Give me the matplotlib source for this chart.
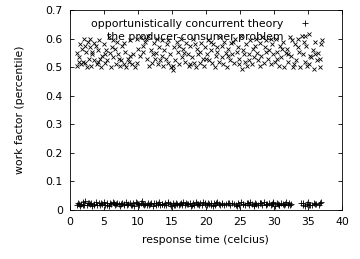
import numpy as np
import matplotlib
matplotlib.use('Agg')
import matplotlib.pyplot as plt

# series 1: opportunistically concurrent theory (+), lower band
x_oct = [1.0, 1.2, 1.5, 1.7, 1.9, 2.1, 2.3, 2.5, 2.7, 2.9, 3.1, 3.3, 3.6, 3.8, 4.0,
         4.3, 4.5, 4.8, 5.0, 5.2, 5.4, 5.7, 5.9, 6.1, 6.3, 6.6, 6.8, 7.0, 7.3, 7.5,
         7.7, 7.9, 8.2, 8.4, 8.6, 8.8, 9.1, 9.3, 9.5, 9.7, 10.0, 10.2, 10.4, 10.6,
         10.9, 11.1, 11.3, 11.5, 11.8, 12.0, 12.2, 12.4, 12.7, 12.9, 13.1, 13.3,
         13.6, 13.8, 14.0, 14.2, 14.5, 14.7, 14.9, 15.1, 15.4, 15.6, 15.8, 16.0,
         16.3, 16.5, 16.7, 16.9, 17.2, 17.4, 17.6, 17.8, 18.1, 18.3, 18.5, 18.7,
         19.0, 19.2, 19.4, 19.6, 19.9, 20.1, 20.3, 20.5, 20.8, 21.0, 21.2, 21.4,
         21.7, 21.9, 22.1, 22.3, 22.6, 23.0, 23.3, 23.6, 23.9, 24.2, 24.5, 24.7,
         24.9, 25.2, 25.5, 25.8, 26.1, 26.3, 26.5, 26.8, 27.0, 27.2, 27.4, 27.7,
         27.9, 28.1, 28.3, 28.6, 28.8, 29.0, 29.2, 29.5, 29.7, 29.9, 30.1, 30.4,
         30.6, 30.8, 31.0, 31.3, 31.5, 31.7, 32.0, 32.2, 32.5, 34.0, 34.3, 34.5,
         34.8, 35.0, 35.3, 35.6, 35.9, 36.2, 36.6, 36.9,
         1.3, 2.0, 2.8, 3.5, 4.6, 5.5, 6.5, 7.2, 8.0, 9.0, 9.9, 10.8, 11.6, 12.6,
         13.5, 14.4, 15.3, 16.2, 17.0, 18.0, 18.9, 19.8, 20.7, 21.5, 22.4, 23.4,
         24.4, 25.4, 26.2, 27.1, 28.0, 28.9, 29.8, 30.7, 31.6, 32.4, 34.2, 35.1,
         36.0, 36.8]
y_oct = [0.018, 0.024, 0.015, 0.021, 0.027, 0.019, 0.030, 0.016, 0.023, 0.020, 0.026, 0.014,
         0.022, 0.028, 0.018, 0.024, 0.016, 0.021, 0.027, 0.019, 0.023, 0.015, 0.025, 0.020,
         0.029, 0.017, 0.022, 0.026, 0.014, 0.020, 0.024, 0.018, 0.028, 0.016, 0.022, 0.025,
         0.019, 0.023, 0.015, 0.027, 0.021, 0.017, 0.024, 0.030, 0.019, 0.022, 0.016, 0.026,
         0.020, 0.023, 0.014, 0.025, 0.018, 0.021, 0.028, 0.016, 0.022, 0.019, 0.024, 0.017,
         0.027, 0.020, 0.015, 0.023, 0.018, 0.025, 0.021, 0.016, 0.024, 0.019, 0.028, 0.017,
         0.022, 0.020, 0.026, 0.015, 0.023, 0.019, 0.027, 0.021, 0.016, 0.024, 0.018, 0.029,
         0.022, 0.017, 0.025, 0.020, 0.026, 0.015, 0.023, 0.019, 0.028, 0.021, 0.016, 0.024,
         0.018, 0.022, 0.026, 0.017, 0.023, 0.020, 0.014, 0.025, 0.019, 0.027, 0.021, 0.016,
         0.024, 0.018, 0.028, 0.022, 0.015, 0.025, 0.020, 0.017, 0.026, 0.023, 0.019, 0.029,
         0.016, 0.022, 0.025, 0.018, 0.021, 0.027, 0.015, 0.024, 0.020, 0.017, 0.026, 0.022,
         0.019, 0.028, 0.016, 0.023, 0.021, 0.025, 0.018, 0.014, 0.022, 0.027, 0.019, 0.016,
         0.024, 0.020, 0.017, 0.028,
         0.022, 0.016, 0.025, 0.019, 0.023, 0.018, 0.024, 0.020, 0.022, 0.017, 0.025, 0.021,
         0.018, 0.023, 0.020, 0.025, 0.017, 0.021, 0.024, 0.018, 0.022, 0.025, 0.019, 0.023,
         0.020, 0.024, 0.017, 0.021, 0.025, 0.018, 0.023, 0.020, 0.024, 0.018, 0.022, 0.019,
         0.023, 0.018, 0.022, 0.026]

# series 2: the producer-consumer problem (x), upper band
x_pcp = [1.0, 1.1, 1.3, 1.5, 1.6, 1.8, 2.0, 2.1, 2.2, 2.4, 2.5, 2.6, 2.8, 2.9, 3.0,
         3.1, 3.3, 3.5, 3.6, 3.8, 4.0, 4.1, 4.3, 4.5, 4.6, 4.8, 5.0, 5.2, 5.3, 5.5,
         5.7, 5.9, 6.0, 6.2, 6.4, 6.6, 6.8, 7.0, 7.1, 7.3, 7.5, 7.7, 7.9, 8.1, 8.3,
         8.5, 8.7, 8.9, 9.1, 9.3, 9.6, 9.8, 10.0, 10.3, 10.5, 10.7, 11.0, 11.2, 11.5,
         11.7, 11.9, 12.1, 12.3, 12.5, 12.7, 12.9, 13.1, 13.3, 13.5, 13.7, 13.9, 14.1,
         14.3, 14.5, 14.7, 14.9, 15.1, 15.3, 15.5, 15.7, 15.9, 16.1, 16.3, 16.5, 16.7,
         16.9, 17.1, 17.3, 17.5, 17.7, 17.9, 18.1, 18.3, 18.5, 18.7, 18.9, 19.1, 19.3,
         19.5, 19.7, 19.9, 20.1, 20.3, 20.5, 20.7, 20.9, 21.1, 21.3, 21.5, 21.7, 21.9,
         22.1, 22.3, 22.5, 22.7, 22.9, 23.1, 23.3, 23.5, 23.7, 23.9, 24.1, 24.3, 24.5,
         24.7, 24.9, 25.1, 25.3, 25.5, 25.7, 25.9, 26.1, 26.3, 26.5, 26.7, 26.9, 27.1,
         27.3, 27.5, 27.7, 27.9, 28.1, 28.3, 28.5, 28.7, 28.9, 29.1, 29.3, 29.5, 29.7,
         29.9, 30.1, 30.3, 30.5, 30.7, 30.9, 31.1, 31.3, 31.5, 31.7, 31.9, 32.1, 32.3,
         32.5, 32.7, 32.9, 33.1, 33.3, 33.5, 33.7, 33.9, 34.1, 34.3, 34.5, 34.7, 34.9,
         35.1, 35.3, 35.5, 35.7, 35.9, 36.1, 36.3, 36.5, 36.7, 36.9, 37.0,
         1.4, 2.3, 3.2, 4.2, 5.1, 6.3, 7.2, 8.0, 8.8, 9.9, 10.8, 11.4, 12.2, 12.8,
         13.6, 14.4, 15.2, 16.0, 16.8, 17.6, 18.4, 19.2, 20.0, 20.8, 21.6, 22.4,
         23.2, 24.0, 24.8, 25.6, 26.4, 27.2, 28.0, 28.8, 29.6, 30.4, 31.2, 32.0,
         32.8, 33.6, 34.4, 35.2, 36.0, 36.8]
y_pcp = [0.505, 0.550, 0.520, 0.580, 0.510, 0.565, 0.520, 0.600, 0.515, 0.555, 0.500, 0.590,
         0.530, 0.570, 0.600, 0.505, 0.545, 0.585, 0.525, 0.575, 0.510, 0.560, 0.595, 0.530,
         0.500, 0.540, 0.580, 0.515, 0.560, 0.525, 0.605, 0.550, 0.500, 0.570, 0.535, 0.565,
         0.510, 0.590, 0.545, 0.505, 0.525, 0.575, 0.510, 0.555, 0.500, 0.530, 0.520, 0.595,
         0.510, 0.545, 0.500, 0.600, 0.565, 0.540, 0.605, 0.555, 0.590, 0.600, 0.610, 0.505,
         0.560, 0.515, 0.585, 0.530, 0.550, 0.510, 0.570, 0.525, 0.595, 0.505, 0.560, 0.530,
         0.580, 0.515, 0.545, 0.500, 0.490, 0.570, 0.525, 0.590, 0.555, 0.510, 0.600, 0.535,
         0.565, 0.520, 0.585, 0.545, 0.505, 0.575, 0.535, 0.600, 0.515, 0.500, 0.565, 0.545,
         0.555, 0.585, 0.530, 0.505, 0.570, 0.545, 0.595, 0.525, 0.560, 0.515, 0.580, 0.500,
         0.540, 0.570, 0.520, 0.605, 0.535, 0.510, 0.590, 0.550, 0.500, 0.565, 0.525, 0.585,
         0.545, 0.515, 0.600, 0.555, 0.570, 0.530, 0.610, 0.495, 0.560, 0.520, 0.580, 0.505,
         0.545, 0.595, 0.510, 0.565, 0.535, 0.600, 0.550, 0.525, 0.585, 0.540, 0.605, 0.515,
         0.570, 0.595, 0.530, 0.560, 0.510, 0.580, 0.545, 0.520, 0.600, 0.555, 0.505, 0.575,
         0.535, 0.590, 0.500, 0.550, 0.565, 0.520, 0.605, 0.540, 0.595, 0.510, 0.580, 0.525,
         0.600, 0.555, 0.500, 0.610, 0.545, 0.520, 0.575, 0.505, 0.615, 0.540, 0.535, 0.560,
         0.495, 0.590, 0.525, 0.550, 0.500, 0.580, 0.595,
         0.535, 0.575, 0.555, 0.520, 0.545, 0.595, 0.530, 0.585, 0.540, 0.515, 0.575, 0.530,
         0.545, 0.600, 0.540, 0.595, 0.505, 0.575, 0.550, 0.510, 0.580, 0.515, 0.530, 0.590,
         0.555, 0.575, 0.540, 0.590, 0.510, 0.545, 0.525, 0.575, 0.505, 0.555, 0.600, 0.530,
         0.565, 0.545, 0.500, 0.570, 0.590, 0.510, 0.545, 0.530]

plt.rcParams['font.family'] = ['DejaVu Sans']
fig = plt.figure(figsize=(3.6, 2.59), dpi=100)
ax = fig.add_axes([0.194, 0.189, 0.756, 0.772])

ax.plot(x_oct, y_oct, linestyle='none', marker='+', color='black',
        markersize=4.5, markeredgewidth=0.6, label='opportunistically concurrent theory')
ax.plot(x_pcp, y_pcp, linestyle='none', marker='x', color='black',
        markersize=3.2, markeredgewidth=0.6, label='the producer-consumer problem')

ax.set_xlim(0, 40)
ax.set_ylim(0, 0.7)
ax.set_xticks(np.arange(0, 41, 5))
ax.set_yticks(np.arange(0, 0.71, 0.1))
ax.set_yticklabels(['0', '0.1', '0.2', '0.3', '0.4', '0.5', '0.6', '0.7'])
ax.tick_params(direction='in', top=True, right=True, labelsize=7.8, length=3, width=0.6, pad=5)
for s in ax.spines.values():
    s.set_linewidth(0.6)

ax.set_xlabel('response time (celcius)', fontsize=7.8, labelpad=6)
ax.set_ylabel('work factor (percentile)', fontsize=7.8, labelpad=15)

ax.legend(loc='upper right', frameon=False, markerfirst=False, fontsize=7.8,
          handlelength=1.5, handletextpad=1.3, labelspacing=0.3,
          borderaxespad=0.1, bbox_to_anchor=(0.915, 0.985))

plt.savefig('out.png', dpi=100)
